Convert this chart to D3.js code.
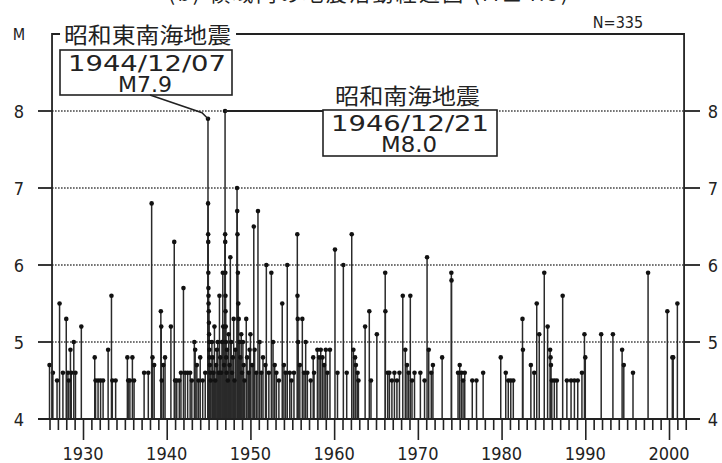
<!DOCTYPE html>
<html>
<head>
<meta charset="utf-8">
<script src="https://cdn.jsdelivr.net/npm/d3@7"></script>
<style>
  body { margin: 0; background: #fff; }
  svg { display: block; }
  .num { font-family: "DejaVu Sans Condensed", "DejaVu Sans", sans-serif; font-stretch: condensed; fill: #222; }
  .jp { font-family: "Noto Sans CJK JP", sans-serif; fill: #222; }
</style>
</head>
<body>
<svg id="chart" width="722" height="463"></svg>
<script>
// magnitude-time plot, events as [decimal year, M]
const quakes1920s = [
  [1926.0, 4.7], [1926.4, 4.6], [1926.9, 4.5], [1927.2, 5.5], [1927.6, 4.6], [1928.0, 5.3],
  [1928.2, 4.6], [1928.3, 4.5], [1928.5, 4.9], [1928.6, 4.6], [1928.9, 5.0], [1929.1, 4.6], [1929.8, 5.2]
]
const quakes1930s = [
  [1931.4, 4.8], [1931.5, 4.5], [1931.8, 4.5], [1932.1, 4.5], [1932.4, 4.5], [1933.0, 4.9],
  [1933.4, 5.6], [1933.5, 4.5], [1933.9, 4.5], [1935.3, 4.8], [1935.4, 4.5], [1935.6, 4.5],
  [1935.9, 4.8], [1936.1, 4.5], [1937.3, 4.6], [1937.8, 4.6], [1938.2, 6.8], [1938.3, 4.8],
  [1938.5, 4.7], [1939.3, 5.4], [1939.35, 5.2], [1939.4, 4.5], [1939.6, 4.7], [1939.8, 4.8]
]
const quakes1940s = [
  [1940.5, 5.2], [1940.9, 6.3], [1941.0, 4.5], [1941.2, 4.5], [1941.5, 4.5], [1941.7, 4.6],
  [1942.0, 5.7], [1942.2, 4.6], [1942.5, 4.6], [1942.8, 4.6], [1943.0, 4.5], [1943.3, 5.0],
  [1943.4, 4.9], [1943.6, 4.7], [1943.8, 4.5], [1944.0, 4.8], [1944.3, 4.5], [1944.6, 4.6],
  [1944.94, 6.8], [1944.95, 6.4], [1944.96, 6.3], [1944.97, 5.9], [1944.98, 5.7], [1944.99, 5.6],
  [1945.0, 5.5], [1945.02, 5.4], [1945.04, 5.25], [1945.06, 5.1], [1945.08, 5.0], [1945.1, 4.9],
  [1945.12, 4.8], [1945.15, 4.7], [1945.2, 4.6], [1945.25, 4.5], [1945.4, 5.0], [1945.5, 4.8],
  [1945.6, 4.6], [1945.7, 5.2], [1945.8, 4.5], [1945.9, 4.7], [1946.0, 4.9], [1946.1, 5.0],
  [1946.2, 4.6], [1946.3, 5.6], [1946.4, 4.8], [1946.5, 4.6], [1946.6, 5.0], [1946.7, 5.9],
  [1946.75, 5.2], [1946.85, 4.7], [1946.98, 6.4], [1946.99, 6.3], [1947.0, 5.9], [1947.02, 5.6],
  [1947.03, 5.4], [1947.05, 5.2], [1947.07, 5.0], [1947.1, 4.8], [1947.15, 4.6], [1947.2, 4.9],
  [1947.3, 4.5], [1947.4, 5.1], [1947.5, 4.7], [1947.6, 6.1], [1947.7, 5.0], [1947.8, 4.6],
  [1947.9, 4.8], [1948.0, 5.3], [1948.1, 4.5], [1948.2, 4.9], [1948.4, 7.0], [1948.42, 6.7],
  [1948.45, 6.4], [1948.5, 5.9], [1948.55, 5.5], [1948.6, 5.3], [1948.7, 5.0], [1948.8, 4.8],
  [1948.9, 5.1], [1949.0, 4.6], [1949.1, 5.0], [1949.2, 4.7], [1949.3, 4.5], [1949.5, 5.3],
  [1949.6, 4.8], [1949.8, 4.6], [1949.9, 4.9]
]
const quakes1950s = [
  [1950.0, 5.1], [1950.2, 4.7], [1950.4, 6.5], [1950.5, 4.9], [1950.7, 4.6], [1950.9, 6.7],
  [1951.1, 5.0], [1951.3, 4.6], [1951.5, 4.8], [1951.8, 4.7], [1951.9, 6.0], [1952.2, 4.6],
  [1952.5, 5.9], [1952.7, 5.0], [1952.9, 4.7], [1953.1, 4.6], [1953.4, 4.5], [1953.8, 5.5],
  [1954.0, 4.7], [1954.2, 4.6], [1954.4, 6.0], [1954.7, 4.6], [1954.9, 4.5], [1955.2, 4.6],
  [1955.6, 6.4], [1955.62, 5.6], [1955.65, 5.3], [1955.7, 5.0], [1955.9, 4.7], [1956.2, 5.3],
  [1956.4, 4.6], [1956.6, 5.0], [1956.8, 4.6], [1957.2, 4.5], [1957.5, 4.8], [1957.6, 4.6],
  [1958.0, 4.9], [1958.2, 4.8], [1958.4, 4.9], [1958.6, 4.8], [1958.8, 4.7], [1959.0, 4.9],
  [1959.2, 4.6], [1959.5, 4.9]
]
const quakes1960s = [
  [1960.1, 6.2], [1960.4, 4.6], [1961.1, 6.0], [1961.5, 4.6], [1962.1, 6.4], [1962.3, 4.9],
  [1962.5, 4.8], [1962.6, 4.7], [1962.8, 4.6], [1962.9, 4.5], [1963.7, 5.2], [1964.2, 5.4],
  [1964.4, 4.5], [1965.1, 5.1], [1966.1, 5.9], [1966.12, 5.4], [1966.4, 4.6], [1966.6, 4.6],
  [1966.9, 4.5], [1967.2, 4.6], [1967.5, 4.5], [1967.8, 4.6], [1968.2, 5.6], [1968.5, 4.9],
  [1968.7, 4.7], [1968.9, 4.6], [1969.1, 5.6], [1969.3, 4.5], [1969.6, 4.6]
]
const quakes1970s = [
  [1970.3, 4.6], [1970.8, 4.5], [1971.1, 6.1], [1971.3, 4.9], [1971.6, 4.6], [1971.8, 4.7],
  [1972.9, 4.8], [1974.0, 5.9], [1974.02, 5.8], [1974.8, 4.6], [1975.0, 4.7], [1975.2, 4.6],
  [1975.4, 4.5], [1975.6, 4.6], [1976.5, 4.5], [1977.0, 4.5], [1977.8, 4.6], [1979.9, 4.8]
]
const quakes1980s = [
  [1980.5, 4.6], [1980.8, 4.5], [1981.1, 4.5], [1981.4, 4.5], [1982.5, 5.3], [1982.55, 4.9],
  [1983.5, 4.7], [1983.9, 4.6], [1984.2, 5.5], [1984.5, 5.1], [1985.1, 5.9], [1985.5, 5.2],
  [1985.8, 4.9], [1985.85, 4.8], [1985.9, 4.7], [1986.0, 4.5], [1986.3, 4.5], [1986.6, 4.5],
  [1987.3, 5.6], [1987.8, 4.5], [1988.3, 4.5], [1988.7, 4.5], [1989.1, 4.5], [1989.6, 4.6],
  [1989.9, 5.1], [1990.0, 4.8]
]
const quakes1990s = [
  [1991.9, 5.1], [1993.3, 5.1], [1994.4, 4.9], [1994.6, 4.7], [1995.7, 4.6], [1997.5, 5.9],
  [1999.8, 5.4], [2000.4, 4.8], [2000.5, 4.8], [2001.0, 5.5]
]
const mainShocks = [
  { name: '昭和東南海地震', date: '1944/12/07', year: 1944.93, mag: 7.9 },
  { name: '昭和南海地震', date: '1946/12/21', year: 1946.97, mag: 8.0 }
]
const magTicks = [4, 5, 6, 7, 8]
const yearLabels = [1930, 1940, 1950, 1960, 1970, 1980, 1990, 2000]
const totalCount = 335
const titleText = '(b) 領域内の地震活動経過図 (M≥4.5)'

const svg = d3.select('#chart')
const x = d3.scaleLinear().domain([1930, 2000]).range([83, 669])
const y = d3.scaleLinear().domain([4, 8]).range([419, 111])

const frameL = x(1926.3), frameR = x(2001.8), frameT = y(9.0)
const outL = 38, outR = 700
const ink = '#222'

// title (cut off at the top edge of the scan)
svg.append('text').attr('class', 'jp')
  .attr('x', 368).attr('y', 1)
  .attr('text-anchor', 'middle')
  .attr('font-size', 21)
  .attr('textLength', 400)
  .text(titleText)

// grid lines 5..8 (dotted inside frame, solid stubs outside)
magTicks.slice(1).forEach(m => {
  svg.append('line')
    .attr('x1', frameL).attr('x2', frameR).attr('y1', y(m)).attr('y2', y(m))
    .attr('stroke', '#444').attr('stroke-width', 1.6).attr('stroke-dasharray', '1.6,1.4')
  svg.append('line').attr('x1', outL).attr('x2', frameL).attr('y1', y(m)).attr('y2', y(m))
    .attr('stroke', ink).attr('stroke-width', 1.8)
  svg.append('line').attr('x1', frameR).attr('x2', outR).attr('y1', y(m)).attr('y2', y(m))
    .attr('stroke', ink).attr('stroke-width', 1.8)
})

// stems
const allQuakes = [].concat(quakes1920s, quakes1930s, quakes1940s, quakes1950s,
  quakes1960s, quakes1970s, quakes1980s, quakes1990s)
  .concat(mainShocks.map(d => [d.year, d.mag]))
const stems = svg.append('g')
stems.selectAll('line')
  .data(allQuakes)
  .join('line')
  .attr('x1', d => x(d[0])).attr('x2', d => x(d[0]))
  .attr('y1', y(4)).attr('y2', d => y(d[1]))
  .attr('stroke', '#2a2a2a').attr('stroke-width', 1.5)
stems.selectAll('circle')
  .data(allQuakes)
  .join('circle')
  .attr('cx', d => x(d[0])).attr('cy', d => y(d[1]))
  .attr('r', 2.3).attr('fill', '#111')

// frame: left, right and broken top line
svg.append('path')
  .attr('d', `M${frameL},${y(4)}V${frameT}H${frameL + 8}M${frameL + 184},${frameT}H${frameR}V${y(4)}`)
  .attr('fill', 'none').attr('stroke', ink).attr('stroke-width', 1.8)

// base line at M4 and year ticks
svg.append('line').attr('x1', outL).attr('x2', outR).attr('y1', y(4)).attr('y2', y(4))
  .attr('stroke', ink).attr('stroke-width', 2.2)
const xAxis = d3.axisBottom(x)
  .tickValues(d3.range(1926, 2003))
  .tickSize(11).tickFormat('')
svg.append('g').attr('transform', `translate(0,${y(4)})`).call(xAxis)
  .call(g => g.select('.domain').remove())
  .call(g => g.selectAll('line').attr('stroke', ink).attr('stroke-width', 1.6)
    .attr('y2', d => d % 10 === 0 ? 21 : 11))
svg.append('g').selectAll('text')
  .data(yearLabels).join('text').attr('class', 'num')
  .attr('x', d => x(d)).attr('y', 460)
  .attr('text-anchor', 'middle').attr('font-size', 18)
  .text(d => d)

// magnitude labels both sides
const yLab = svg.append('g').attr('class', 'num').attr('font-size', 18).attr('text-anchor', 'middle')
yLab.selectAll('.l').data(magTicks).join('text').attr('class', 'l')
  .attr('x', 19).attr('y', d => y(d) + 6.5).text(d => d)
yLab.selectAll('.r').data(magTicks).join('text').attr('class', 'r')
  .attr('x', 713).attr('y', d => y(d) + 6.5).text(d => d)
yLab.append('text').attr('x', 19).attr('y', frameT + 6).attr('font-size', 16).text('M')

svg.append('text').attr('class', 'num')
  .attr('x', 618).attr('y', 28).attr('text-anchor', 'middle')
  .attr('font-size', 16).text('N=' + totalCount)

// annotations
const [tonankai, nankai] = mainShocks
svg.append('text').attr('class', 'jp')
  .attr('x', frameL + 12).attr('y', frameT + 9)
  .attr('font-size', 22).attr('textLength', 167).attr('lengthAdjust', 'spacingAndGlyphs')
  .text(tonankai.name)
svg.append('rect').attr('x', 60).attr('y', 50).attr('width', 172).attr('height', 45)
  .attr('fill', 'none').attr('stroke', ink).attr('stroke-width', 1.6)
svg.append('text').attr('class', 'num').attr('x', 68).attr('y', 71)
  .attr('font-size', 22).attr('textLength', 158).attr('lengthAdjust', 'spacingAndGlyphs')
  .text(tonankai.date)
svg.append('text').attr('class', 'num').attr('x', 145).attr('y', 92)
  .attr('text-anchor', 'middle').attr('font-size', 21)
  .attr('textLength', 54).attr('lengthAdjust', 'spacingAndGlyphs')
  .text('M' + tonankai.mag.toFixed(1))
svg.append('path')
  .attr('d', `M150,95L${x(tonankai.year) - 6},${y(tonankai.mag) - 6}L${x(tonankai.year)},${y(tonankai.mag)}`)
  .attr('fill', 'none').attr('stroke', ink).attr('stroke-width', 1.5)

svg.append('text').attr('class', 'jp')
  .attr('x', 335).attr('y', 104)
  .attr('font-size', 22).attr('textLength', 145).attr('lengthAdjust', 'spacingAndGlyphs')
  .text(nankai.name)
svg.append('line').attr('x1', x(nankai.year)).attr('x2', 323)
  .attr('y1', y(nankai.mag)).attr('y2', y(nankai.mag))
  .attr('stroke', ink).attr('stroke-width', 1.8)
svg.append('rect').attr('x', 323).attr('y', 110).attr('width', 174).attr('height', 46)
  .attr('fill', '#fff').attr('stroke', ink).attr('stroke-width', 1.6)
svg.append('text').attr('class', 'num').attr('x', 331).attr('y', 131)
  .attr('font-size', 22).attr('textLength', 158).attr('lengthAdjust', 'spacingAndGlyphs')
  .text(nankai.date)
svg.append('text').attr('class', 'num').attr('x', 409).attr('y', 152)
  .attr('text-anchor', 'middle').attr('font-size', 21)
  .attr('textLength', 56).attr('lengthAdjust', 'spacingAndGlyphs')
  .text('M' + nankai.mag.toFixed(1))
</script>
</body>
</html>
